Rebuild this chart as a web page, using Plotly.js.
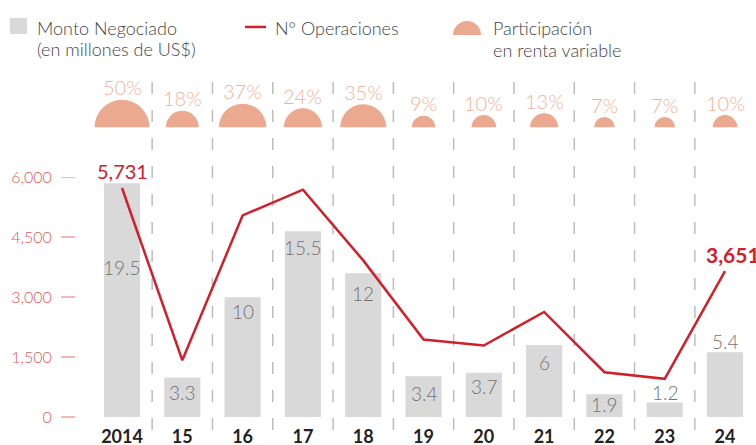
<!DOCTYPE html>
<html><head><meta charset="utf-8">
<script src="https://cdn.plot.ly/plotly-3.0.1.min.js"></script>
<style>html,body{margin:0;padding:0;background:#fff}#chart{width:756px;height:445px}</style>
</head><body><div id="chart"></div>
<script>
// ---- data ----
const years = ['2014','15','16','17','18','19','20','21','22','23','24'];
const montoNegociado = [19.5, 3.3, 10, 15.5, 12, 3.4, 3.7, 6, 1.9, 1.2, 5.4];
const numOperaciones = [5731, 1420, 5045, 5690, 3920, 1940, 1790, 2630, 1120, 955, 3651];
const participacion = [50, 18, 37, 24, 35, 9, 10, 13, 7, 7, 10];
const yTicks = [0, 1500, 3000, 4500, 6000];

// ---- style / layout constants ----
const W = 756, H = 445, ML = 76, MR = 0, MT = 0, MB = 27.5;
const plotW = W - ML - MR, plotH = H - MT - MB;
const opsPerPx = 25;
const mainTop = 0.64;
const yMax = mainTop * plotH * opsPerPx;
const BAR_SCALE = 300;            // bar heights read against left axis = monto * 300
const labelDrop = [84, 15, 14, 16, 20, 17, 14, 17, 10, -10, -11]; // bar label nudges (px)
const FONT = 'Lato, "Open Sans", sans-serif';
const RED = '#d0202b', GREY_BAR = '#d9d9d9', SALMON = '#eba98f', SALMON_TXT = '#efb39d';
const TXT = '#454545';
const MAX_DIAM = 55, MAX_PCT = 50;   // marker area scale
const radius = p => (MAX_DIAM / 2) * Math.sqrt(p / MAX_PCT);

const px2x = p => (p - ML) / plotW;
const px2y = p => (H - MB - p) / plotH;

// ---- traces ----
const bars = {
  type: 'bar', x: years, y: montoNegociado, yaxis: 'y',
  marker: {color: GREY_BAR, line: {width: 0}}, hoverinfo: 'skip'
};
const line = {
  type: 'scatter', mode: 'lines', x: years, y: numOperaciones, yaxis: 'y2',
  line: {color: RED, width: 2.5}, hoverinfo: 'skip'
};
const semis = {
  type: 'scatter', mode: 'markers', x: years, y: participacion.map(() => 0), yaxis: 'y3',
  marker: {size: participacion, sizemode: 'area', sizeref: 2 * MAX_PCT / (MAX_DIAM * MAX_DIAM),
    color: SALMON, opacity: 1, line: {width: 0}},
  cliponaxis: true, hoverinfo: 'skip'
};

// ---- shapes ----
const shapes = [];
for (let i = 0; i < years.length - 1; i++) {
  shapes.push({type: 'line', xref: 'x', yref: 'paper', x0: i + 0.5, x1: i + 0.5,
    y0: px2y(82), y1: px2y(445), layer: 'below',
    line: {color: '#bdbdbd', width: 1.5, dash: '12px,16px'}});
}
// legend swatches
shapes.push({type: 'rect', xref: 'paper', yref: 'paper', x0: px2x(10), x1: px2x(27), y0: px2y(34), y1: px2y(18),
  fillcolor: GREY_BAR, line: {width: 0}});
shapes.push({type: 'line', xref: 'paper', yref: 'paper', x0: px2x(245), x1: px2x(266), y0: px2y(27), y1: px2y(27),
  line: {color: RED, width: 2.5}});
(function () {
  const cx = 467, cy = 35, r = 14, k = 0.5523;
  const P = (x, y) => px2x(x) + ',' + px2y(y);
  const path = 'M ' + P(cx - r, cy) +
    ' C ' + P(cx - r, cy - k * r) + ' ' + P(cx - k * r, cy - r) + ' ' + P(cx, cy - r) +
    ' C ' + P(cx + k * r, cy - r) + ' ' + P(cx + r, cy - k * r) + ' ' + P(cx + r, cy) + ' Z';
  shapes.push({type: 'path', xref: 'paper', yref: 'paper', path: path, fillcolor: SALMON, line: {width: 0}});
})();

// ---- annotations ----
const annotations = [];
montoNegociado.forEach((v, i) => {
  annotations.push({x: i, y: v, xref: 'x', yref: 'y', text: String(v), showarrow: false,
    yanchor: 'middle', yshift: -labelDrop[i],
    font: {family: FONT, size: 19, color: '#727272', weight: 300}});
});
participacion.forEach((p, i) => {
  annotations.push({x: i, y: 0, xref: 'x', yref: 'y3', text: p + '%', showarrow: false,
    yanchor: 'middle', yshift: radius(p) + 12.5,
    font: {family: FONT, size: 20, color: SALMON_TXT, weight: 300}});
});
const last = years.length - 1;
annotations.push({x: 0, y: numOperaciones[0], xref: 'x', yref: 'y2',
  text: numOperaciones[0].toLocaleString('en-US'), showarrow: false, yshift: 17,
  font: {family: FONT, size: 20, color: RED, weight: 400}});
annotations.push({x: last, y: numOperaciones[last], xref: 'x', yref: 'y2',
  text: numOperaciones[last].toLocaleString('en-US'), showarrow: false, yshift: 17, xshift: 8,
  font: {family: FONT, size: 21, color: RED, weight: 700}});
const legendText = [
  ['Monto Negociado', 35, 28], ['(en millones de US$)', 35, 49],
  ['N° Operaciones', 273, 28],
  ['Participación', 491, 28], ['en renta variable', 491, 50]
];
legendText.forEach(([t, x, y]) => annotations.push({xref: 'paper', yref: 'paper', x: px2x(x), y: px2y(y),
  xanchor: 'left', yanchor: 'middle', text: t, showarrow: false,
  font: {family: FONT, size: 18, color: TXT, weight: 300}}));

const layout = {
  width: W, height: H, margin: {l: ML, r: MR, t: MT, b: MB, pad: 0},
  paper_bgcolor: '#fff', plot_bgcolor: 'rgba(0,0,0,0)', showlegend: false,
  bargap: 0.4, font: {family: FONT},
  xaxis: {type: 'category', range: [-0.763, 10.514], showgrid: false, zeroline: false, showline: false,
    ticks: '', ticklabelstandoff: 7, tickfont: {family: FONT, size: 18, color: '#222', weight: 700}, fixedrange: true},
  yaxis: {domain: [0, mainTop], range: [0, yMax / BAR_SCALE], visible: false, fixedrange: true},
  yaxis2: {overlaying: 'y', side: 'left', anchor: 'x', range: [0, yMax], tickvals: yTicks, tickformat: ',',
    ticks: 'outside', ticklen: 14, tickwidth: 1.5, tickcolor: '#f3b8b5', ticklabelstandoff: 6,
    tickfont: {family: FONT, size: 16, color: '#e05a5a', weight: 300},
    showgrid: false, zeroline: false, showline: false, fixedrange: true},
  yaxis3: {domain: [px2y(127.5), 1], range: [0, 1], visible: false, anchor: 'x', fixedrange: true},
  shapes: shapes, annotations: annotations
};

Plotly.newPlot('chart', [bars, line, semis], layout, {staticPlot: true, displayModeBar: false});
</script>
</body></html>
